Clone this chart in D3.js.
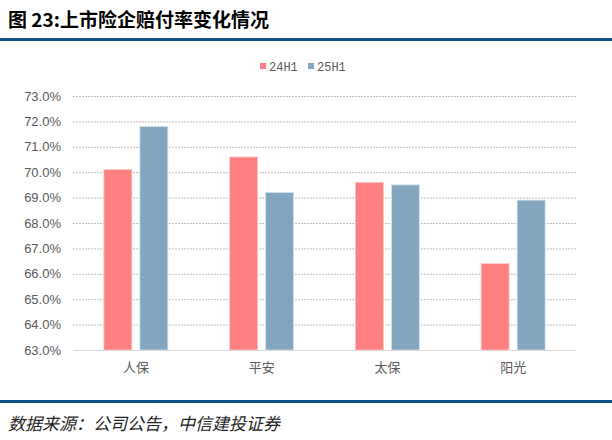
<!DOCTYPE html>
<html><head><meta charset="utf-8">
<script src="https://cdn.jsdelivr.net/npm/d3@7"></script>
<style>body{margin:0;background:#fff;}svg{display:block;}</style>
</head><body>
<script>
const categories = ["人保", "平安", "太保", "阳光"];
const seriesNames = ["24H1", "25H1"];
const values24H1 = [70.1, 70.6, 69.6, 66.4];
const values25H1 = [71.8, 69.2, 69.5, 68.9];
const yTicks = [63, 64, 65, 66, 67, 68, 69, 70, 71, 72, 73];
const colors = ["#FF8080", "#82A6BF"];

const W = 612, H = 440;
const svg = d3.select("body").append("svg").attr("width", W).attr("height", H);

svg.append("text").attr("x", 8).attr("y", 27)
  .attr("font-family", "'Noto Sans CJK SC', sans-serif").attr("font-weight", "bold")
  .attr("font-size", 19).attr("fill", "#000").text("图 23:上市险企赔付率变化情况");
svg.append("rect").attr("x", 0).attr("y", 38).attr("width", W).attr("height", 3).attr("fill", "#0b5184");
svg.append("rect").attr("x", 0).attr("y", 400).attr("width", W).attr("height", 3).attr("fill", "#0b5184");
svg.append("text").attr("x", 8).attr("y", 430)
  .attr("font-family", "'Noto Sans CJK SC', sans-serif").attr("font-style", "italic")
  .attr("font-size", 17).attr("fill", "#222")
  .text("数据来源：公司公告，中信建投证券");

const x0 = d3.scaleBand().domain(categories).range([73, 576]).paddingInner(0).paddingOuter(0);
const y = d3.scaleLinear().domain([63, 73]).range([350, 96]);

// gridlines
svg.append("g").selectAll("line").data(yTicks.slice(1)).join("line")
  .attr("x1", 73).attr("x2", 576).attr("y1", d => y(d) + 0.5).attr("y2", d => y(d) + 0.5)
  .attr("stroke", "#bfbfbf").attr("stroke-dasharray", "2,1");

// y axis labels
const yAxis = d3.axisLeft(y).tickValues(yTicks).tickFormat(d => d.toFixed(1) + "%").tickSize(0).tickPadding(0);
const ga = svg.append("g").attr("transform", "translate(61,0)").call(yAxis);
ga.select(".domain").remove();
ga.selectAll("text").attr("font-family", "'Liberation Sans', Arial, sans-serif").attr("font-size", 13).attr("fill", "#595959");

// bars
const barW = 28, gap = 8;
const data = categories.map((c, i) => ({c, v: [values24H1[i], values25H1[i]]}));
data.forEach(d => {
  d.v.forEach((v, j) => {
    const cx = x0(d.c) + x0.bandwidth() / 2;
    const bx = j === 0 ? cx - gap / 2 - barW : cx + gap / 2;
    svg.append("rect").attr("x", bx).attr("y", y(v)).attr("width", barW).attr("height", y(63) - y(v))
      .attr("fill", colors[j]).attr("stroke", j === 0 ? "#ffc8c8" : "#d6e3ec").attr("stroke-width", 0.8);
  });
});

// x axis
const xAxis = d3.axisBottom(x0).tickSize(0).tickPadding(13);
const gx = svg.append("g").attr("transform", "translate(0,350)").call(xAxis);
gx.select(".domain").attr("stroke", "#d9d9d9").attr("stroke-width", 1.2);
gx.selectAll("text").attr("font-family", "'Noto Sans CJK SC', sans-serif").attr("font-size", 13).attr("fill", "#595959");

// legend
const leg = svg.append("g");
const legX = [260, 308];
seriesNames.forEach((s, i) => {
  leg.append("rect").attr("x", legX[i]).attr("y", 63).attr("width", 6).attr("height", 6).attr("fill", colors[i]);
  leg.append("text").attr("x", legX[i] + 9).attr("y", 71).attr("font-family", "'Liberation Mono', monospace")
    .attr("font-size", 12).attr("fill", "#595959").text(s);
});
</script>
</body></html>
